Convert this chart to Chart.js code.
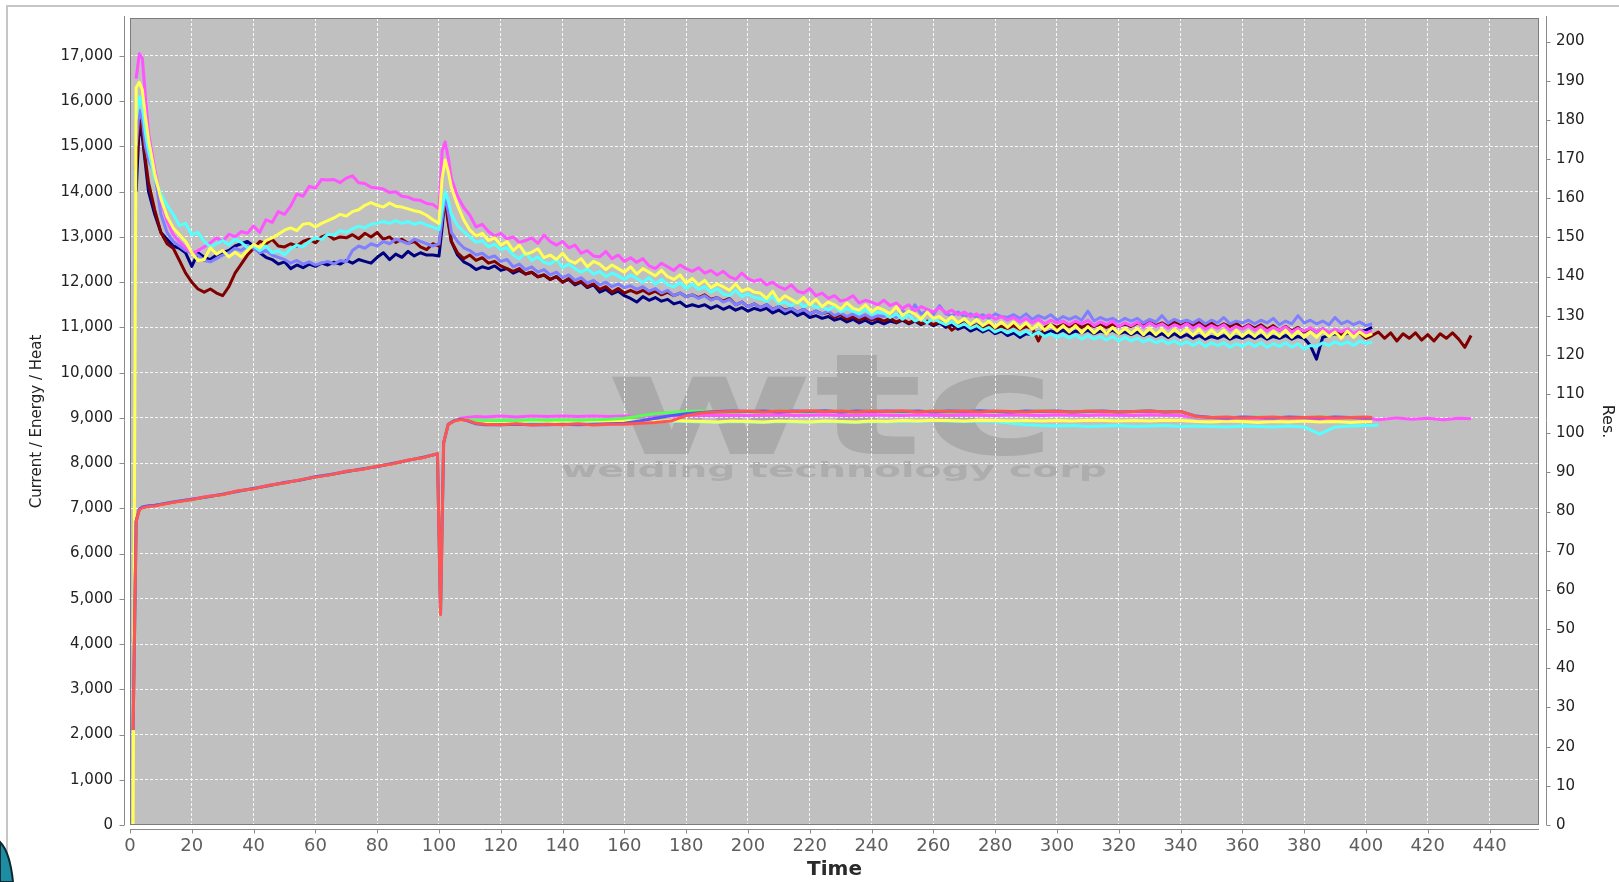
<!DOCTYPE html>
<html lang="en">
<head>
<meta charset="utf-8">
<title>Current / Energy / Heat</title>
<script src="https://cdn.jsdelivr.net/npm/chart.js@4.4.1/dist/chart.umd.min.js"></script>
<style>
  html, body { margin: 0; padding: 0; background: #fff; }
  #chart { display: block; }
</style>
</head>
<body>
<canvas id="chart" width="1619" height="882"></canvas>
<script>
// 目盛り
const timeTicks = [0, 20, 40, 60, 80, 100, 120, 140, 160, 180, 200, 220, 240, 260, 280, 300, 320, 340, 360, 380, 400, 420, 440];
const leftTicks = [0, 1000, 2000, 3000, 4000, 5000, 6000, 7000, 8000, 9000, 10000, 11000, 12000, 13000, 14000, 15000, 16000, 17000];
const resTicks = [0, 10, 20, 30, 40, 50, 60, 70, 80, 90, 100, 110, 120, 130, 140, 150, 160, 170, 180, 190, 200];

// time axis of the upper (resistance) curves
const resTime = [
    0, 1, 2, 3, 4, 5, 6,
    8, 10, 12, 14, 16, 18, 20, 22, 24, 26, 28, 30, 32, 34, 36, 38, 40, 42, 44, 46, 48, 50,
    52, 54, 56, 58, 60, 62, 64, 66, 68, 70, 72, 74, 76, 78, 80, 82, 84, 86, 88, 90, 92, 94, 96, 98, 100,
    101, 102, 103,
    104, 106, 108, 110, 112, 114, 116, 118, 120, 122,
    124, 126, 128, 130, 132, 134, 136, 138, 140, 142,
    144, 146, 148, 150, 152, 154, 156, 158, 160, 162,
    164, 166, 168, 170, 172, 174, 176, 178, 180, 182,
    184, 186, 188, 190, 192, 194, 196, 198, 200, 202,
    204, 206, 208, 210, 212, 214, 216, 218, 220, 222,
    224, 226, 228, 230, 232, 234, 236, 238, 240, 242,
    244, 246, 248, 250, 252, 254, 256, 258, 260, 262,
    264, 266, 268, 270, 272, 274, 276, 278, 280, 282,
    284, 286, 288, 290, 292, 294, 296, 298, 300, 302,
    304, 306, 308, 310, 312, 314, 316, 318, 320, 322,
    324, 326, 328, 330, 332, 334, 336, 338, 340, 342,
    344, 346, 348, 350, 352, 354, 356, 358, 360, 362,
    364, 366, 368, 370, 372, 374, 376, 378, 380, 382,
    384, 386, 388, 390, 392, 394, 396, 398, 400, 402,
    404, 406, 408, 410, 412, 414, 416, 418, 420, 422,
    424, 426, 428, 430, 432, 434
];

const resYellow = [
    0, 0, 16300, 16420, 16250, 15650, 15150,
    14400, 13850, 13450, 13200, 13050, 12900, 12650, 12480, 12500, 12760, 12620, 12700, 12560, 12660, 12560, 12700, 12840, 12760, 12920, 12980,
    13060, 13150, 13200, 13140, 13280, 13300, 13220, 13300, 13360, 13420, 13500, 13460, 13560, 13600, 13700, 13760, 13700, 13660, 13750, 13680,
    13660, 13620, 13580, 13550, 13480, 13380, 13300,
    14300, 14700, 14450,
    14100, 13700, 13380, 13150, 13020, 13080, 12920, 12980, 12820, 12900,
    12700, 12820, 12620, 12660, 12740, 12540, 12600, 12500, 12640, 12480,
    12420, 12520, 12340, 12460, 12400, 12280, 12380, 12300, 12220, 12340,
    12180, 12300, 12220, 12140, 12260, 12120, 12060, 12160, 11980, 12080,
    11940, 12040, 11880, 11960, 11900, 11820, 11960, 11800, 11860, 11780,
    11760, 11640, 11800, 11580, 11700, 11620, 11540, 11660, 11500, 11620,
    11460, 11560, 11500, 11400, 11540, 11420, 11380, 11500, 11340, 11440,
    11380, 11300, 11460, 11260, 11360, 11300, 11180, 11340, 11200, 11240,
    11120, 11240, 11100, 11200, 11060, 11180, 11040, 11140, 11000, 11120,
    11000, 11120, 10980, 11100, 10960, 11080, 10940, 11060, 10920, 11040,
    10900, 11040, 10880, 11020, 10880, 11000, 10860, 11000, 10860, 10980,
    10860, 10980, 10840, 10980, 10840, 10960, 10820, 10960, 10840, 10960,
    10820, 10960, 10800, 10940, 10820, 10940, 10780, 10940, 10800, 10920,
    10800, 10940, 10780, 10920, 10800, 10940, 10780, 10920, 10780, 10900,
    10780, 10920, 10800, 10900, 10760, 10920, 10780, 10900, 10800, 10860
];

const resCyan = [
    null, null, 15600, 16100, 15900, 15300, 14900,
    14300, 13950, 13700, 13500, 13250, 13300, 13050, 13100, 12900, 12780, 12850, 12920, 12820, 12950, 12880, 12760, 12800, 12700, 12800, 12650,
    12700, 12600, 12740, 12820, 12780, 12900, 12980, 12940, 13060, 13040, 13140, 13100, 13180, 13240, 13200, 13280, 13300, 13340, 13300, 13360,
    13300, 13340, 13280, 13320, 13260, 13220, 13160,
    13600, 14000, 13800,
    13500, 13250, 13120, 13000, 12880, 12920, 12780, 12840, 12720, 12760,
    12600, 12520, 12660, 12480, 12560, 12440, 12400, 12500, 12320, 12400,
    12300, 12220, 12300, 12180, 12240, 12120, 12200, 12140, 12060, 12160,
    12080, 12000, 12100, 11960, 12060, 11940, 11900, 12000, 11860, 11960,
    11840, 11900, 11780, 11860, 11740, 11700, 11820, 11680, 11740, 11660,
    11640, 11580, 11680, 11520, 11560, 11480, 11580, 11460, 11520, 11440,
    11460, 11380, 11480, 11340, 11420, 11360, 11300, 11400, 11280, 11340,
    11320, 11220, 11300, 11180, 11280, 11140, 11200, 11100, 11200, 11120,
    11060, 11120, 11020, 11080, 10980, 11040, 10940, 11000, 10900, 10960,
    10880, 10940, 10840, 10920, 10820, 10900, 10800, 10860, 10780, 10840,
    10760, 10840, 10740, 10820, 10740, 10800, 10720, 10800, 10700, 10780,
    10700, 10760, 10680, 10740, 10660, 10720, 10640, 10700, 10620, 10680,
    10600, 10680, 10580, 10660, 10600, 10660, 10560, 10640, 10580, 10660,
    10580, 10660, 10560, 10640, 10580, 10660, 10560, 10640, 10520, 10600,
    10580, 10660, 10600, 10680, 10620, 10680, 10600, 10700, 10640, 10680
];

const resMagenta = [
    null, null, 16500, 17050, 16950, 16100, 15300,
    14500, 13800, 13350, 13050, 12900, 12760, 12640, 12700, 12780, 12870, 12980, 12900, 13060, 13000, 13120, 13080, 13240, 13100, 13380, 13320,
    13560, 13500, 13680, 13950, 13900, 14120, 14080, 14270, 14260, 14270, 14200, 14300, 14350, 14200, 14180, 14100, 14080, 14060, 13980, 14000,
    13900, 13880, 13820, 13810, 13740, 13720, 13620,
    14900, 15100, 14750,
    14300, 13900, 13650, 13480, 13220, 13280, 13120, 13020, 13080, 12960,
    13000, 12880, 12920, 12980, 12860, 13040, 12900, 12820, 12900, 12760,
    12820, 12640, 12700, 12580, 12560, 12680, 12520, 12600, 12460, 12540,
    12440, 12520, 12360, 12300, 12420, 12340, 12260, 12380, 12300, 12240,
    12320, 12200, 12260, 12160, 12240, 12120, 12060, 12200, 12080, 12020,
    12060, 11940, 12000, 11900, 11840, 11940, 11800, 11760, 11860, 11700,
    11760, 11640, 11700, 11580, 11620, 11700, 11540, 11600, 11560, 11500,
    11600, 11480, 11540, 11420, 11500, 11360, 11460, 11400, 11340, 11440,
    11320, 11380, 11280, 11340, 11240, 11300, 11200, 11280, 11180, 11240,
    11160, 11220, 11120, 11200, 11100, 11180, 11080, 11160, 11100, 11140,
    11060, 11140, 11080, 11160, 11040, 11120, 11060, 11140, 11020, 11100,
    11040, 11120, 11000, 11100, 11020, 11080, 10980, 11060, 11000, 11080,
    10980, 11060, 10960, 11040, 10980, 11060, 10940, 11020, 10960, 11040,
    10940, 11020, 10920, 11000, 10940, 11010, 10900, 10980, 10920, 10990,
    10900, 10980, 10880, 10960, 10900, 10970, 10860, 10940, 10880, 10920
];

const resLightBlue = [
    null, null, 15000, 15800, 15600, 15000, 14700,
    14400, 13500, 13100, 12900, 12800, 12700, 12650, 12600, 12480, 12450, 12520, 12600, 12650, 12750, 12700, 12800, 12750, 12650, 12700, 12600,
    12550, 12500, 12420, 12480, 12400, 12450, 12380, 12420, 12460, 12400, 12480, 12450, 12700, 12800, 12750, 12850, 12800, 12900, 12850, 12950,
    12900, 12850, 12950, 12900, 12850, 12800, 12850,
    13400, 13900, 13550,
    13100, 12900, 12760, 12700, 12600, 12640, 12540, 12580, 12460, 12500,
    12340, 12400, 12280, 12340, 12220, 12280, 12160, 12220, 12100, 12160,
    12040, 12100, 11980, 12040, 11940, 12000, 11900, 11960, 11880, 11920,
    11840, 11900, 11800, 11860, 11760, 11820, 11700, 11760, 11680, 11720,
    11640, 11700, 11600, 11660, 11560, 11620, 11500, 11560, 11460, 11520,
    11440, 11500, 11400, 11460, 11360, 11420, 11340, 11400, 11300, 11360,
    11300, 11360, 11260, 11320, 11240, 11300, 11220, 11280, 11200, 11260,
    11240, 11300, 11220, 11380, 11260, 11500, 11300, 11360, 11280, 11480,
    11300, 11260, 11340, 11240, 11300, 11220, 11280, 11200, 11300, 11240,
    11220, 11280, 11200, 11300, 11180, 11260, 11200, 11280, 11160, 11240,
    11180, 11240, 11160, 11360, 11140, 11220, 11160, 11200, 11120, 11200,
    11140, 11200, 11100, 11180, 11120, 11260, 11100, 11180, 11120, 11160,
    11100, 11180, 11080, 11160, 11100, 11220, 11080, 11140, 11100, 11160,
    11080, 11160, 11100, 11200, 11060, 11140, 11080, 11260, 11100, 11160,
    11080, 11140, 11060, 11220, 11080, 11140, 11060, 11120, 11040, 11080
];

const resMaroon = [
    null, null, 14500, 15600, 15350, 14700, 14200,
    13600, 13100, 12850, 12750, 12480, 12200, 12000, 11850, 11780, 11850, 11760, 11700, 11900, 12200, 12400, 12600, 12750, 12900, 12850, 12950,
    12800, 12780, 12850, 12800, 12900, 12950, 12870, 13000, 13050, 12950, 13000, 12980, 13050, 12960, 13080, 13000, 13100, 12950, 13000, 12880,
    12950, 12860, 12900, 12780, 12720, 12850, 12800,
    13400, 13800, 13300,
    12900, 12650, 12520, 12600, 12480, 12540, 12420, 12460, 12360, 12300,
    12240, 12300, 12180, 12220, 12120, 12160, 12060, 12120, 12000, 12080,
    11960, 12020, 11900, 11960, 11840, 11900, 11780, 11860, 11760, 11820,
    11760, 11820, 11740, 11800, 11720, 11780, 11700, 11760, 11680, 11720,
    11660, 11720, 11620, 11660, 11580, 11640, 11500, 11560, 11460, 11520,
    11440, 11500, 11400, 11460, 11380, 11420, 11340, 11400, 11300, 11360,
    11300, 11340, 11220, 11280, 11180, 11240, 11160, 11220, 11160, 11200,
    11140, 11200, 11120, 11180, 11100, 11160, 11080, 11140, 11060, 11120,
    11080, 10940, 11040, 11100, 11000, 11060, 10980, 11040, 10980, 11020,
    10980, 11040, 10960, 11020, 10980, 10700, 11000, 11060, 11000, 11060,
    11020, 11080, 11000, 11060, 11020, 11080, 11000, 11060, 11020, 11080,
    11020, 11100, 11040, 11120, 11040, 11100, 11020, 11120, 11040, 11100,
    11040, 11120, 11020, 11100, 11000, 11080, 11020, 11100, 10980, 11060,
    10980, 11060, 10960, 11040, 10940, 11020, 10920, 11000, 10900, 10980,
    10900, 10960, 10880, 10940, 10860, 10900, 10820, 10880, 10760, 10820,
    10900, 10760, 10880, 10700, 10860, 10760, 10880, 10720, 10840, 10700,
    10860, 10760, 10880, 10740, 10560, 10820
];

const resNavy = [
    null, null, 14000, 15500, 15200, 14600, 14000,
    13500, 13100, 12950, 12800, 12750, 12650, 12350, 12650, 12550, 12500, 12600, 12650, 12700, 12800, 12850, 12900, 12800, 12650, 12550, 12500,
    12400, 12450, 12300, 12380, 12320, 12400, 12350, 12420, 12380, 12440, 12400, 12480, 12420, 12500, 12460, 12420, 12550, 12650, 12500, 12620,
    12550, 12680, 12580, 12650, 12600, 12600, 12580,
    13200, 13900, 13400,
    12900, 12600, 12450, 12380, 12280, 12340, 12300, 12360, 12260, 12300,
    12200, 12260, 12180, 12220, 12120, 12160, 12060, 12120, 12000, 12060,
    11940, 12000, 11880, 11940, 11780, 11840, 11740, 11800, 11700, 11640,
    11560, 11680, 11600, 11660, 11580, 11620, 11520, 11560, 11460, 11500,
    11460, 11500, 11420, 11480, 11400, 11460, 11380, 11440, 11360, 11420,
    11380, 11420, 11320, 11380, 11300, 11360, 11260, 11320, 11220, 11260,
    11200, 11240, 11160, 11200, 11120, 11180, 11100, 11160, 11080, 11140,
    11080, 11140, 11100, 11160, 11080, 11140, 11060, 11120, 11040, 11100,
    11000, 11060, 10960, 11020, 10920, 10980, 10900, 10960, 10860, 10920,
    10820, 10880, 10780, 10860, 10840, 10900, 10860, 10920, 10880, 10940,
    10860, 10920, 10880, 10940, 10860, 10920, 10880, 10940, 10860, 10900,
    10840, 10900, 10820, 10880, 10800, 10860, 10780, 10860, 10780, 10840,
    10760, 10820, 10740, 10800, 10760, 10820, 10740, 10800, 10760, 10820,
    10760, 10820, 10740, 10800, 10760, 10820, 10740, 10800, 10760, 10600,
    10300, 10780, 10820, 10860, 10800, 10880, 10840, 10900, 10940, 11000
];

// time axis of the lower (current) curves
const curTime = [
    1, 2, 3, 4, 6, 8, 10, 15, 20, 25, 30, 35, 40, 45, 50, 55, 60, 65, 70, 75, 80, 85, 90, 95,
    99.5, 100.5, 101.5, 103, 105, 107, 109, 112, 115,
    120, 125, 130, 135, 140, 145, 150, 155, 160, 165, 170, 175, 180, 185, 190, 195,
    200, 205, 210, 215, 220, 225, 230, 235, 240, 245, 250, 255, 260, 265, 270, 275, 280, 285, 290, 295,
    300, 305, 310, 315, 320, 325, 330, 335, 340, 345, 350, 355, 360, 365, 370, 375, 380, 385, 390, 395, 400,
    402, 404, 410, 415, 420, 425, 430, 434
];

const curRed = [
    2100, 6700, 6960, 7010, 7040, 7050, 7080, 7140, 7190, 7260, 7300, 7390, 7430, 7510, 7560, 7630, 7690, 7740, 7820, 7860, 7930, 7980, 8070, 8120,
    8210, 4650, 8450, 8850, 8930, 8960, 8950, 8880, 8860,
    8850, 8870, 8840, 8860, 8850, 8870, 8840, 8860, 8860, 8880, 8900, 8930, 9050, 9110, 9130, 9140,
    9150, 9130, 9150, 9140, 9160, 9140, 9150, 9130, 9150, 9140, 9160, 9130, 9150, 9140, 9150, 9130, 9150, 9140, 9130, 9150,
    9140, 9130, 9150, 9140, 9130, 9140, 9150, 9130, 9140, 9030, 9010, 9020, 9000, 9010, 9020, 9000, 9010, 9020, 9000, 9010, 9020,
    9010
];

const curBlue = [
    2100, 6720, 6980, 7030, 7060, 7070, 7090, 7150, 7200, 7250, 7310, 7380, 7440, 7500, 7570, 7620, 7700, 7750, 7810, 7870, 7920, 7990, 8060, 8130,
    8200, 4700, 8440, 8860, 8940, 8970, 8940, 8870, 8850,
    8850, 8860, 8850, 8850, 8860, 8850, 8860, 8870, 8880, 8930, 8990, 9050, 9090, 9120, 9140, 9150,
    9140, 9150, 9130, 9150, 9140, 9160, 9130, 9150, 9140, 9150, 9140, 9150, 9130, 9150, 9140, 9160, 9140, 9130, 9150, 9140,
    9150, 9130, 9140, 9150, 9130, 9140, 9150, 9130, 9140, 9040, 9010, 9000, 9020, 9010, 9000, 9020, 9010, 9000, 9020, 9010, 9000,
    9000
];

const curGreen = [
    2100, 6710, 6970, 7020, 7050, 7060, 7090, 7150, 7190, 7250, 7310, 7380, 7440, 7500, 7560, 7630, 7690, 7750, 7810, 7870, 7930, 7990, 8060, 8130,
    8200, 4700, 8450, 8860, 8940, 8970, 8960, 8950, 8940,
    8950, 8940, 8960, 8950, 8960, 8950, 8960, 8970, 8990, 9040, 9090, 9120, 9140, 9150, 9140, 9130,
    9140, 9130, 9150, 9140, 9130, 9150, 9140, 9130, 9150, 9140, 9130, 9140, 9150, 9130, 9140, 9150, 9130, 9140, 9130, 9150,
    9140, 9130, 9150, 9140, 9130, 9140, 9150, 9130, 9140, 9020, 9000, 9010, 9000, 9020, 9000, 9010, 9000, 9020, 9010, 9000, 9010,
    9000
];

const curMagenta = [
    2100, 6710, 6970, 7020, 7050, 7060, 7090, 7150, 7200, 7260, 7310, 7380, 7440, 7510, 7560, 7630, 7690, 7750, 7820, 7860, 7930, 7990, 8060, 8130,
    8210, 4700, 8450, 8860, 8940, 8990, 9010, 9030, 9020,
    9040, 9020, 9040, 9030, 9040, 9030, 9040, 9030, 9040, 9030, 9050, 9040, 9050, 9060, 9050, 9060,
    9050, 9060, 9070, 9050, 9060, 9070, 9050, 9060, 9070, 9060, 9050, 9070, 9060, 9050, 9070, 9060, 9050, 9070, 9060, 9050,
    9070, 9060, 9050, 9070, 9060, 9050, 9070, 9060, 9050, 9000, 8990, 8980, 9000, 8990, 8980, 9000, 8990, 8980, 9000, 8990, 8980,
    8980, 8960, 9000, 8970, 8990, 8960, 8990, 8980
];

const curYellow = [
    2100, 6700, 6960, 7010, 7040, 7060, 7080, 7140, 7190, 7250, 7300, 7380, 7430, 7500, 7560, 7620, 7690, 7740, 7810, 7860, 7920, 7980, 8060, 8120,
    8200, 4700, 8440, 8850, 8930, 8950, 8940, 8930, 8920,
    8930, 8920, 8940, 8930, 8920, 8940, 8930, 8920, 8940, 8930, 8920, 8940, 8930, 8920, 8910, 8930,
    8920, 8910, 8930, 8920, 8910, 8930, 8920, 8910, 8930, 8920, 8940, 8930, 8950, 8940, 8930, 8950, 8940, 8930, 8940, 8930,
    8940, 8930, 8950, 8940, 8930, 8940, 8930, 8950, 8940, 8920, 8910, 8930, 8920, 8900, 8920, 8910, 8930, 8910, 8920, 8900, 8920,
    8920
];

const curCyan = [
    2100, 6700, 6960, 7010, 7040, 7060, 7080, 7140, 7190, 7250, 7300, 7380, 7430, 7500, 7560, 7620, 7690, 7740, 7810, 7860, 7920, 7980, 8060, 8120,
    8200, 4700, 8440, 8850, 8930, 8950, 8940, 8920, 8910,
    8920, 8910, 8930, 8920, 8910, 8930, 8920, 8910, 8930, 8920, 8910, 8930, 8920, 8910, 8900, 8920,
    8910, 8900, 8920, 8910, 8900, 8920, 8910, 8900, 8920, 8910, 8930, 8920, 8940, 8930, 8920, 8930, 8920, 8880, 8850, 8830,
    8820, 8830, 8810, 8820, 8830, 8810, 8820, 8830, 8810, 8820, 8810, 8800, 8820, 8810, 8800, 8820, 8800, 8640, 8800, 8820, 8830,
    8830, 8840
];

// 系列を作る
function toPoints(times, values) {
    return values.map((v, i) => ({ x: times[i], y: v }));
}

function series(label, times, values, color) {
    return {
        label: label,
        data: toPoints(times, values),
        borderColor: color,
        backgroundColor: color,
        borderWidth: 3,
        borderJoinStyle: 'round',
        pointRadius: 0,
        tension: 0,
        fill: false,
        yAxisID: 'y'
    };
}

function useTicks(values) {
    return scale => { scale.ticks = values.map(v => ({ value: v })); };
}

function drawStretched(ctx, text, font, x, baseline, width, color) {
    ctx.save();
    ctx.font = font;
    ctx.fillStyle = color;
    ctx.textBaseline = 'alphabetic';
    const w = ctx.measureText(text).width;
    ctx.translate(x, baseline);
    ctx.scale(width / w, 1);
    ctx.fillText(text, 0, 0);
    ctx.restore();
}

// 背景・透かし・軸線
const plotDecor = {
    id: 'plotDecor',
    beforeDraw(chart) {
        const { ctx, chartArea: a } = chart;
        ctx.save();
        ctx.fillStyle = '#ffffff';
        ctx.fillRect(0, 0, chart.width, chart.height);
        ctx.fillStyle = '#c6c6c6';
        ctx.fillRect(6, 5, chart.width - 6, 2);
        ctx.fillRect(6, 5, 2, chart.height - 5);
        // corner decoration
        ctx.beginPath();
        ctx.moveTo(0, 842);
        ctx.quadraticCurveTo(10, 852, 13, 882);
        ctx.lineTo(0, 882);
        ctx.closePath();
        ctx.fillStyle = '#1c8da3';
        ctx.fill();
        ctx.strokeStyle = '#0d2a33';
        ctx.lineWidth = 2;
        ctx.stroke();
        ctx.fillStyle = '#c0c0c0';
        ctx.fillRect(a.left, a.top, a.right - a.left, a.bottom - a.top);
        drawStretched(ctx, 'wtc', 'bold 140px "DejaVu Sans"', a.left + 474, a.top + 436, 454, '#aaaaaa');
        drawStretched(ctx, 'welding technology corp', 'bold 21px "DejaVu Sans"', a.left + 431, a.top + 459, 546, '#adadad');
        ctx.restore();
    },
    afterDraw(chart) {
        const { ctx, chartArea: a, scales } = chart;
        ctx.save();
        ctx.strokeStyle = '#7c7c7c';
        ctx.lineWidth = 1;
        ctx.strokeRect(a.left + 0.5, a.top + 0.5, a.right - a.left - 1, a.bottom - a.top - 1);
        ctx.strokeStyle = '#8a8a8a';
        ctx.beginPath();
        const lx = a.left - 5.5;
        ctx.moveTo(lx, a.top - 2);
        ctx.lineTo(lx, a.bottom);
        scales.y.ticks.forEach(t => {
            const py = Math.round(scales.y.getPixelForValue(t.value)) + 0.5;
            ctx.moveTo(lx - 5, py);
            ctx.lineTo(lx, py);
        });
        const rx = a.right + 7.5;
        ctx.moveTo(rx, a.top - 2);
        ctx.lineTo(rx, a.bottom);
        scales.y2.ticks.forEach(t => {
            const py = Math.round(scales.y2.getPixelForValue(t.value)) + 0.5;
            ctx.moveTo(rx, py);
            ctx.lineTo(rx + 4, py);
        });
        const by = a.bottom + 4.5;
        ctx.moveTo(a.left, by);
        ctx.lineTo(a.right, by);
        scales.x.ticks.forEach(t => {
            const px = Math.round(scales.x.getPixelForValue(t.value)) + 0.5;
            ctx.moveTo(px, by);
            ctx.lineTo(px, by + 4);
        });
        ctx.stroke();
        ctx.restore();
    }
};

const tickFont = { family: 'DejaVu Sans', size: 15 };

const config = {
    type: 'line',
    data: {
        datasets: [
            series('Current 1', curTime, curRed, '#ff5555'),
            series('Current 2', curTime, curBlue, '#5555ff'),
            series('Current 3', curTime, curGreen, '#55ff55'),
            series('Current 4', curTime, curMagenta, '#ff55ff'),
            series('Current 5', curTime, curYellow, '#ffff55'),
            series('Current 6', curTime, curCyan, '#55ffff'),
            series('Res. 1', resTime, resYellow, '#ffff55'),
            series('Res. 2', resTime, resCyan, '#55ffff'),
            series('Res. 3', resTime, resMagenta, '#ff55ff'),
            series('Res. 4', resTime, resLightBlue, '#8080ff'),
            series('Res. 5', resTime, resMaroon, '#800000'),
            series('Res. 6', resTime, resNavy, '#000080')
        ]
    },
    options: {
        responsive: false,
        animation: false,
        devicePixelRatio: 1,
        locale: 'en-US',
        layout: { padding: { top: 18, left: 0, right: 0, bottom: 0 } },
        plugins: {
            legend: { display: false },
            tooltip: { enabled: false }
        },
        scales: {
            x: {
                type: 'linear',
                position: 'bottom',
                min: 0,
                max: 456,
                afterBuildTicks: useTicks(timeTicks),
                afterFit: s => { s.height = 57; s.paddingLeft = 0; s.paddingRight = 0; },
                grid: { color: 'rgba(255,255,255,0.9)', lineWidth: 1, drawTicks: false },
                border: { display: false, dash: [3, 2] },
                ticks: {
                    padding: 11,
                    color: '#5e5e5e',
                    maxRotation: 0,
                    autoSkip: false,
                    font: { family: 'DejaVu Sans', size: 18 }
                },
                title: {
                    display: true,
                    text: 'Time',
                    color: '#2a2a2a',
                    font: { family: 'DejaVu Sans', size: 20, weight: 'bold' },
                    padding: { top: 0, bottom: 0 }
                }
            },
            y: {
                type: 'linear',
                position: 'left',
                min: 0,
                max: 17840,
                afterBuildTicks: useTicks(leftTicks),
                afterFit: s => { s.width = 130; s.paddingTop = 0; s.paddingBottom = 0; },
                grid: { color: 'rgba(255,255,255,0.9)', lineWidth: 1, drawTicks: false },
                border: { display: false, dash: [3, 2] },
                ticks: { padding: 17, color: '#222', autoSkip: false, font: tickFont },
                title: {
                    display: true,
                    text: 'Current / Energy / Heat',
                    color: '#222',
                    font: { family: 'DejaVu Sans', size: 15 },
                    padding: { top: 28, bottom: 0 }
                }
            },
            y2: {
                type: 'linear',
                position: 'right',
                min: 0,
                max: 206,
                afterBuildTicks: useTicks(resTicks),
                afterFit: s => { s.width = 80; s.paddingTop = 0; s.paddingBottom = 0; },
                grid: { display: false, drawTicks: false },
                border: { display: false },
                ticks: { padding: 17, color: '#222', autoSkip: false, font: tickFont },
                title: {
                    display: true,
                    text: 'Res.',
                    color: '#222',
                    font: { family: 'DejaVu Sans', size: 16 },
                    padding: { top: 2, bottom: 0 }
                }
            }
        }
    },
    plugins: [plotDecor]
};

new Chart(document.getElementById('chart').getContext('2d'), config);
</script>
</body>
</html>
